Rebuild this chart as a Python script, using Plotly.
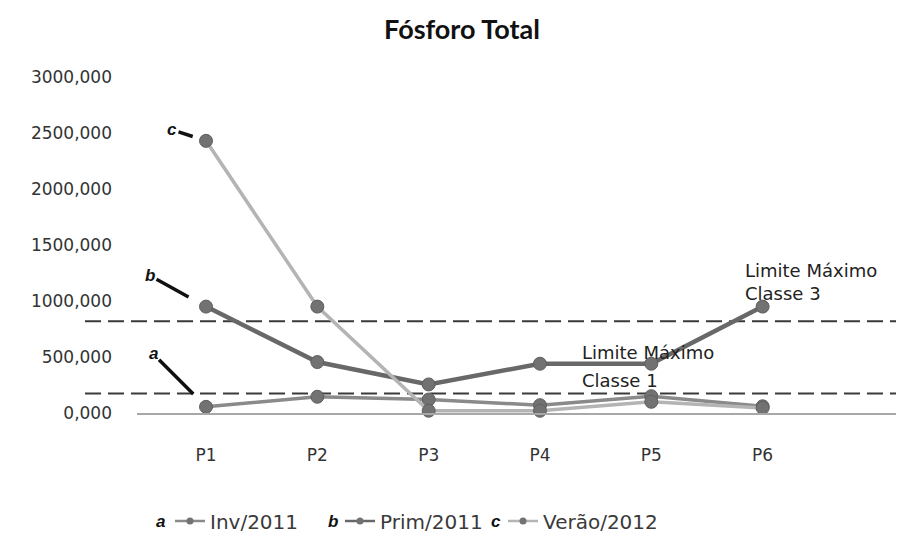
import plotly.graph_objects as go

categories = ["P1", "P2", "P3", "P4", "P5", "P6"]
series_names = ["Inv/2011", "Prim/2011", "Verão/2012"]
series_letters = ["a", "b", "c"]
inv_2011 = [55, 145, 120, 70, 150, 60]
prim_2011 = [950, 455, 255, 440, 440, 950]
verao_2012 = [2430, 950, 20, 20, 100, 45]
limite_classe1 = 175
limite_classe3 = 820
limite1_lines = ["Limite Máximo", "Classe 1"]
limite3_lines = ["Limite Máximo", "Classe 3"]
ytick_vals = [0, 500, 1000, 1500, 2000, 2500, 3000]
ytick_text = ["0,000", "500,000", "1000,000", "1500,000", "2000,000", "2500,000", "3000,000"]

line_colors = ["#8a8a8a", "#686868", "#b4b4b4"]
line_widths = [3.5, 4.5, 3.5]
marker_color = "#727272"
series_values = [inv_2011, prim_2011, verao_2012]

W, H = 896, 527          # page body has an 8px margin
OFF = 8
PL, PR, PT, PB = 137 - OFF, 904 - OFF, 77 - OFF, 413 - OFF  # plot area in figure pixels

fig = go.Figure()
for name, vals, col, w in zip(series_names, series_values, line_colors, line_widths):
    fig.add_trace(go.Scatter(
        x=categories, y=vals, mode="lines+markers", name=name,
        line=dict(color=col, width=w),
        marker=dict(color=marker_color, size=13, line=dict(color="#5e5e5e", width=1)),
        cliponaxis=False, showlegend=False,
    ))

# legend entries (small markers as in the original legend)
legend_ids = ["legend", "legend2", "legend3"]
for name, col, lid in zip(series_names, line_colors, legend_ids):
    fig.add_trace(go.Scatter(
        x=[None], y=[None], mode="lines+markers", name=name,
        line=dict(color=col, width=2.5),
        marker=dict(color=marker_color, size=7),
        legend=lid, showlegend=True,
    ))

# limit lines
for val in [limite_classe1, limite_classe3]:
    fig.add_shape(type="line", xref="paper", yref="y", x0=(85 - OFF - PL) / (PR - PL), x1=1.0,
                  y0=val, y1=val,
                  line=dict(color="#3a3a3a", width=2, dash="16px,7px"), layer="below")

ann_font = dict(family="DejaVu Sans", size=18, color="#222222")
for txt, ys in zip(limite1_lines, [41, 13]):
    fig.add_annotation(x="P4", y=limite_classe1, xref="x", yref="y", text=txt,
                       showarrow=False, xanchor="left", yanchor="middle", yshift=ys, xshift=40,
                       font=ann_font)
for txt, ys in zip(limite3_lines, [51, 28]):
    fig.add_annotation(x="P6", y=limite_classe3, xref="x", yref="y", text=txt,
                       showarrow=False, xanchor="left", yanchor="middle", yshift=ys, xshift=-20,
                       font=ann_font)

# letter pointers
letter_font = dict(family="Liberation Sans", size=17, color="#111111")
pointers = [(series_letters[2], verao_2012[0], -34, -11, 14),
            (series_letters[1], prim_2011[0], -56, -31, 20),
            (series_letters[0], inv_2011[0], -53, -53, 18)]
for letter, val, ax, ay, so in pointers:
    fig.add_annotation(x=categories[0], y=val, xref="x", yref="y", text="<b><i>%s</i></b>" % letter,
                       showarrow=True, arrowhead=0, arrowwidth=3.5, arrowcolor="#111111",
                       ax=ax, ay=ay, standoff=so, font=letter_font)

# legend letters
leg_y_px = 521 - OFF
leg_y_paper = (PB - leg_y_px) / (PB - PT)
for letter, px in zip(series_letters, [160, 333, 496]):
    fig.add_annotation(x=(px - OFF - PL) / (PR - PL), y=leg_y_paper, xref="paper", yref="paper",
                       text="<b><i>%s</i></b>" % letter, showarrow=False,
                       xanchor="center", yanchor="middle", font=letter_font)

leg_common = dict(orientation="h", yanchor="middle", y=1 - leg_y_px / H, yref="container",
                  xref="container", xanchor="left",
                  bgcolor="rgba(0,0,0,0)", font=dict(family="DejaVu Sans", size=20, color="#3a3a3a"),
                  itemwidth=30)
fig.update_layout(
    width=W, height=H,
    margin=dict(l=PL, r=W - PR, t=PT, b=H - PB, autoexpand=False),
    plot_bgcolor="white", paper_bgcolor="white",
    title=dict(text="<b>Fósforo Total</b>", x=(462 - OFF) / W, xanchor="center", y=1 - (30 - OFF) / H,
               yanchor="middle", yref="container",
               font=dict(family="Lato", size=27, color="#111111")),
    xaxis=dict(range=[-0.62, 6.27], showgrid=False, zeroline=False, showline=True,
               linecolor="#a8a8a8", linewidth=1.5, ticks="", ticklabelstandoff=26, automargin=False,
               tickfont=dict(family="DejaVu Sans", size=17, color="#333333")),
    yaxis=dict(range=[0, 3000], showgrid=False, zeroline=False, showline=False, automargin=False,
               tickvals=ytick_vals, ticktext=ytick_text, ticklabelstandoff=24,
               tickfont=dict(family="DejaVu Sans", size=17, color="#333333")),
    legend=dict(x=(170 - OFF) / W, **leg_common),
    legend2=dict(x=(340 - OFF) / W, **leg_common),
    legend3=dict(x=(503 - OFF) / W, **leg_common),
)

fig.write_html("out.html")
